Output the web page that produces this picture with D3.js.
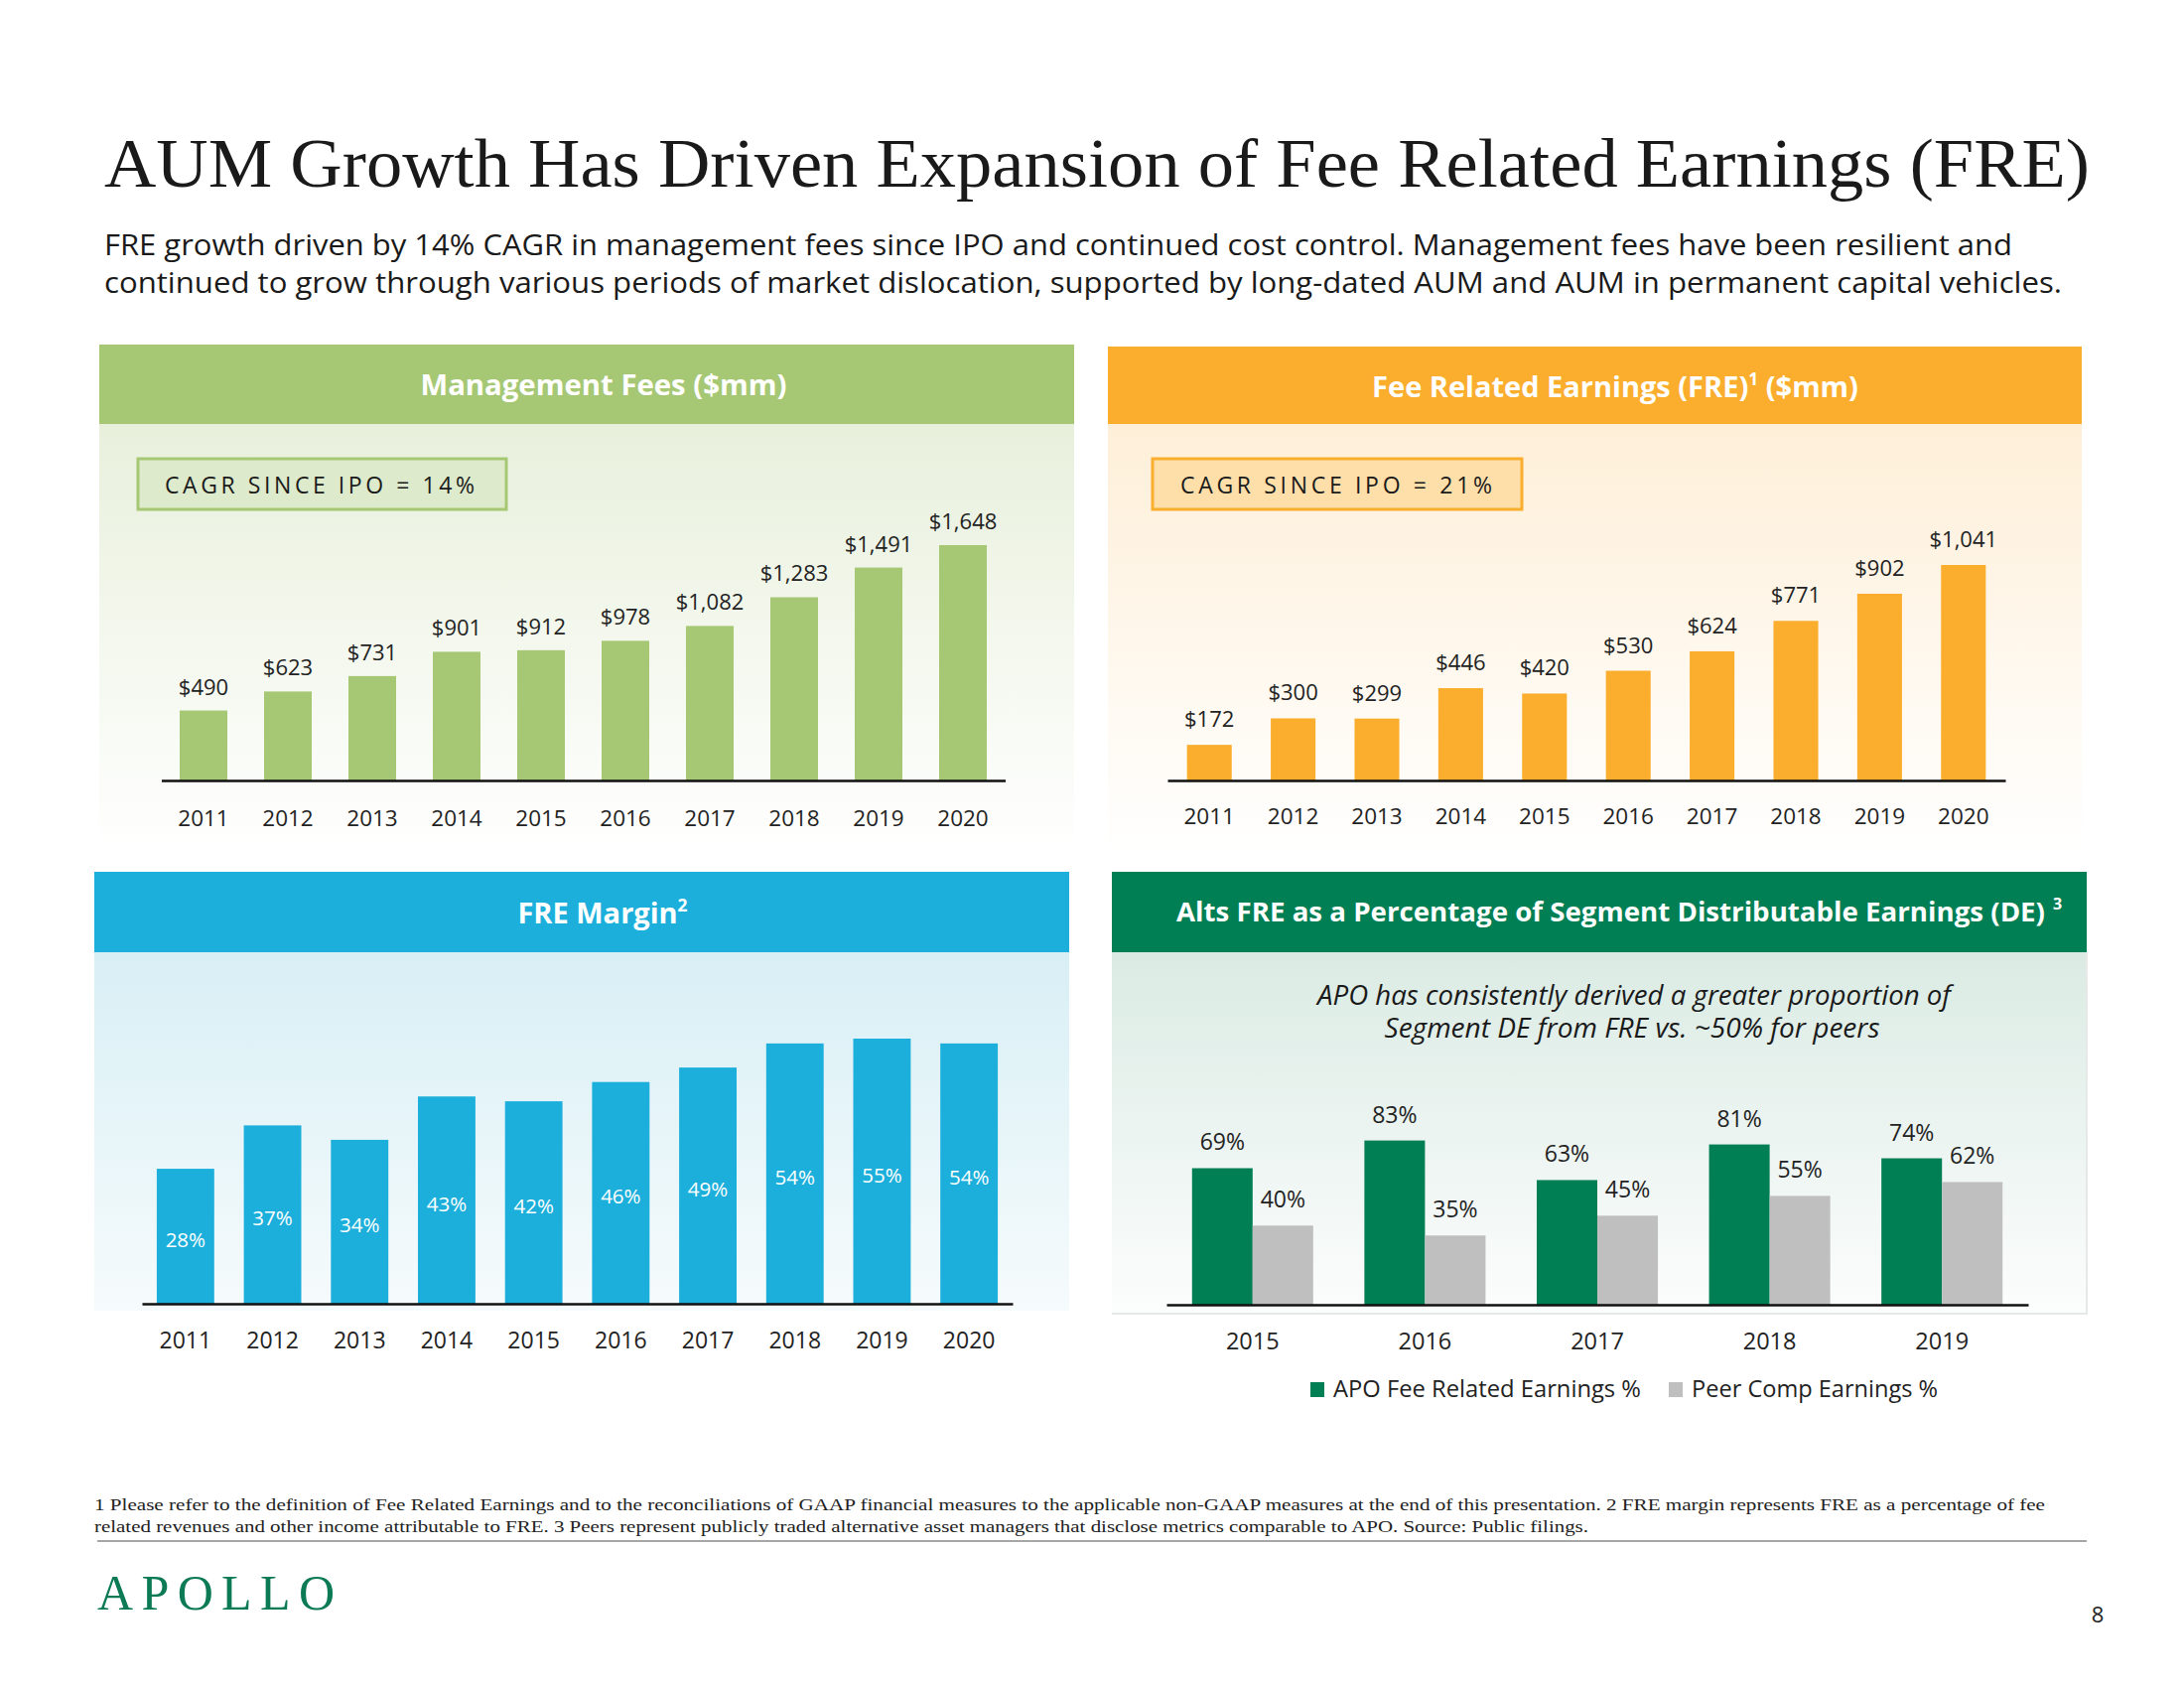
<!DOCTYPE html>
<html><head><meta charset="utf-8">
<script src="https://cdn.jsdelivr.net/npm/d3@7"></script>
<style>body{margin:0;background:#fff} svg{display:block}</style>
</head><body><svg id="c" width="2200" height="1700"></svg>
<script>
// ---- data ----
const years = ["2011","2012","2013","2014","2015","2016","2017","2018","2019","2020"];
const mgmtFees = [490,623,731,901,912,978,1082,1283,1491,1648];
const freValues = [172,300,299,446,420,530,624,771,902,1041];
const freMargin = [28,37,34,43,42,46,49,54,55,54];
const altsYears = ["2015","2016","2017","2018","2019"];
const apoFre = [69,83,63,81,74];
const peerFre = [40,35,45,55,62];
const seriesNames = ["APO Fee Related Earnings %","Peer Comp Earnings %"];

const SANS = "'Open Sans','Noto Sans',sans-serif";
const SERIF = "'Liberation Serif','DejaVu Serif',serif";
const TXT = "#222";

const svg = d3.select("#c");
svg.append("rect").attr("width",2200).attr("height",1700).attr("fill","#fff");
const defs = svg.append("defs");
function grad(id, c0, c1){
  const g = defs.append("linearGradient").attr("id",id).attr("x1",0).attr("y1",0).attr("x2",0).attr("y2",1);
  g.append("stop").attr("offset",0).attr("stop-color",c0);
  g.append("stop").attr("offset",1).attr("stop-color",c1);
}
grad("gGreen","#E8F0DC","#FFFFFF");
grad("gOrange","#FEEFD8","#FFFFFF");
grad("gBlue","#D8EFF5","#F6FBFC");
grad("gDark","#DBEBE4","#FCFDFD");

// ---- title ----
svg.append("text").attr("x",105).attr("y",188)
  .attr("font-family",SERIF).attr("font-size",70).attr("fill","#1a1a1a")
  .attr("textLength",2000).attr("lengthAdjust","spacingAndGlyphs")
  .text("AUM Growth Has Driven Expansion of  Fee Related Earnings (FRE)");
svg.append("text").attr("x",105).attr("y",257)
  .attr("font-family",SANS).attr("font-size",30).attr("fill","#1a1a1a")
  .attr("textLength",1922).attr("lengthAdjust","spacingAndGlyphs")
  .text("FRE growth driven by 14% CAGR in management fees since IPO and continued cost control. Management fees have been resilient and");
svg.append("text").attr("x",105).attr("y",295)
  .attr("font-family",SANS).attr("font-size",30).attr("fill","#1a1a1a")
  .attr("textLength",1972).attr("lengthAdjust","spacingAndGlyphs")
  .text("continued to grow through various periods of market dislocation, supported by long-dated AUM and AUM in permanent capital vehicles.");

// ---- panel frames ----
function panel(x, y, w, hh, bh, hc, gid){
  svg.append("rect").attr("x",x).attr("y",y+hh).attr("width",w).attr("height",bh).attr("fill",`url(#${gid})`);
  svg.append("rect").attr("x",x).attr("y",y).attr("width",w).attr("height",hh).attr("fill",hc);
}
panel(100,347,982,80,433,"#A6C874","gGreen");
panel(1116,349,981,78,433,"#FBAE2D","gOrange");
panel(95,878,982,81,361,"#1DAFDB","gBlue");
panel(1120,878,982,81,364,"#007E54","gDark");
svg.append("path").attr("d","M1120,1323 H2102 V959").attr("fill","none").attr("stroke","#E6E9E8").attr("stroke-width",2);

// header titles
function header(cx, y, parts, size, len){
  const t = svg.append("text").attr("x",cx).attr("y",y).attr("text-anchor","middle")
    .attr("font-family",SANS).attr("font-weight",700).attr("font-size",size).attr("fill","#fff");
  parts.forEach(p=>{
    const ts = t.append("tspan").text(p.t);
    if(p.sup){ ts.attr("font-size",size*0.6).attr("baseline-shift","super"); }
  });
  if(len) t.attr("textLength",len).attr("lengthAdjust","spacingAndGlyphs");
  return t;
}
header(608,398,[{t:"Management Fees ($mm)"}],29,369);
header(1627,400,[{t:"Fee Related Earnings (FRE)"},{t:"1",sup:true},{t:" ($mm)"}],29);
header(607,930,[{t:"FRE Margin"},{t:"2",sup:true}],29);
// panel 4 header: main text + separate superscript
svg.append("text").attr("x",1185).attr("y",928).attr("font-family",SANS).attr("font-weight",700)
  .attr("font-size",26.5).attr("fill","#fff").attr("textLength",875).attr("lengthAdjust","spacingAndGlyphs")
  .text("Alts FRE as a Percentage of Segment Distributable Earnings (DE)");
svg.append("text").attr("x",2068).attr("y",916).attr("font-family",SANS).attr("font-weight",700)
  .attr("font-size",16).attr("fill","#fff").text("3");

// CAGR boxes
function cagr(x, y, w, h, fill, stroke, tx, tlen, label){
  svg.append("rect").attr("x",x).attr("y",y).attr("width",w).attr("height",h)
    .attr("fill",fill).attr("stroke",stroke).attr("stroke-width",3);
  svg.append("text").attr("x",tx).attr("y",y+35).attr("font-family",SANS).attr("font-size",23)
    .attr("fill","#1a1a1a").attr("textLength",tlen).attr("lengthAdjust","spacing").text(label);
}
cagr(139,462,371,51,"#DDEACB","#A6C874",166,312,"CAGR SINCE IPO = 14%");
cagr(1161,462,372,51,"#FEDFAA","#F9AE2E",1189,314,"CAGR SINCE IPO = 21%");

// ---- generic axis ----
function bottomAxis(x, yBase, labelDy, fs){
  const g = svg.append("g").attr("transform",`translate(0,${yBase})`)
    .call(d3.axisBottom(x).tickSize(0).tickSizeOuter(0));
  g.select(".domain").attr("stroke","#111").attr("stroke-width",2.5);
  g.selectAll(".tick text").attr("y",labelDy).attr("dy",null)
    .attr("font-family",SANS).attr("font-size",fs||22).attr("fill",TXT);
  return g;
}
const dollar = v => "$" + d3.format(",")(v);

// ---- panel 1: Management fees ----
{
  const x = d3.scaleBand().domain(years).range([162.5,1012.5]).paddingInner(0.435).paddingOuter(0.2175);
  const y = d3.scaleLinear().domain([0, d3.max(mgmtFees)]).range([786, 549]);
  const g = svg.append("g");
  g.selectAll("rect").data(mgmtFees).join("rect")
    .attr("x",(d,i)=>x(years[i])).attr("width",x.bandwidth())
    .attr("y",d=>y(d)).attr("height",d=>y(0)-y(d)).attr("fill","#A6C874");
  g.selectAll("text").data(mgmtFees).join("text")
    .attr("x",(d,i)=>x(years[i])+x.bandwidth()/2).attr("y",d=>y(d)-16)
    .attr("text-anchor","middle").attr("font-family",SANS).attr("font-size",22).attr("fill",TXT)
    .text(dollar);
  bottomAxis(x, 786, 46, 22.5);
}

// ---- panel 2: FRE ----
{
  const x = d3.scaleBand().domain(years).range([1176,2020]).paddingInner(0.466).paddingOuter(0.233);
  const y = d3.scaleLinear().domain([0, d3.max(freValues)]).range([786, 569]);
  const g = svg.append("g");
  g.selectAll("rect").data(freValues).join("rect")
    .attr("x",(d,i)=>x(years[i])).attr("width",x.bandwidth())
    .attr("y",d=>y(d)).attr("height",d=>y(0)-y(d)).attr("fill","#FBAE2D");
  g.selectAll("text").data(freValues).join("text")
    .attr("x",(d,i)=>x(years[i])+x.bandwidth()/2).attr("y",d=>y(d)-18)
    .attr("text-anchor","middle").attr("font-family",SANS).attr("font-size",22).attr("fill",TXT)
    .text(dollar);
  bottomAxis(x, 786, 44, 22.5);
}

// ---- panel 3: FRE margin ----
{
  const x = d3.scaleBand().domain(years).range([143,1020]).paddingInner(0.34).paddingOuter(0.17);
  const y = d3.scaleLinear().domain([0, d3.max(freMargin)]).range([1313, 1046]);
  const g = svg.append("g");
  g.selectAll("rect").data(freMargin).join("rect")
    .attr("x",(d,i)=>x(years[i])).attr("width",x.bandwidth())
    .attr("y",d=>y(d)).attr("height",d=>y(0)-y(d)).attr("fill","#1DAFDB");
  g.selectAll("text").data(freMargin).join("text")
    .attr("x",(d,i)=>x(years[i])+x.bandwidth()/2).attr("y",d=>(y(d)+y(0))/2+11)
    .attr("text-anchor","middle").attr("font-family",SANS).attr("font-size",20.5).attr("fill","#fff")
    .text(d=>d+"%");
  bottomAxis(x, 1313, 45, 23);
}

// ---- panel 4: Alts FRE % of DE ----
{
  svg.append("text").attr("x",1646).attr("y",1012).attr("text-anchor","middle")
    .attr("font-family",SANS).attr("font-style","italic").attr("font-size",27).attr("fill","#1a1a1a")
    .attr("textLength",638).attr("lengthAdjust","spacingAndGlyphs")
    .text("APO has consistently derived a greater proportion of");
  svg.append("text").attr("x",1644).attr("y",1045).attr("text-anchor","middle")
    .attr("font-family",SANS).attr("font-style","italic").attr("font-size",27).attr("fill","#1a1a1a")
    .attr("textLength",499).attr("lengthAdjust","spacingAndGlyphs")
    .text("Segment DE from FRE vs. ~50% for peers");

  const x0 = d3.scaleBand().domain(altsYears).range([1175,2043]).paddingInner(0.297).paddingOuter(0.1485);
  const x1 = d3.scaleBand().domain([0,1]).range([0, x0.bandwidth()]);
  const y = d3.scaleLinear().domain([0, d3.max(apoFre)]).range([1314, 1148.6]);
  const colors = ["#007E54","#BFBFBF"];
  const rows = altsYears.map((yr,i)=>[{yr,s:0,v:apoFre[i]},{yr,s:1,v:peerFre[i]}]).flat();
  const g = svg.append("g");
  g.selectAll("rect").data(rows).join("rect")
    .attr("x",d=>x0(d.yr)+x1(d.s)).attr("width",x1.bandwidth())
    .attr("y",d=>y(d.v)).attr("height",d=>y(0)-y(d.v)).attr("fill",d=>colors[d.s]);
  g.selectAll("text").data(rows).join("text")
    .attr("x",d=>x0(d.yr)+x1(d.s)+x1.bandwidth()/2).attr("y",d=>y(d.v)-18)
    .attr("text-anchor","middle").attr("font-family",SANS).attr("font-size",23).attr("fill",TXT)
    .text(d=>d.v+"%");
  bottomAxis(x0, 1314, 45, 23.5);

  // legend
  const lg = svg.append("g");
  const lx = [1320, 1681];
  const llen = [310, 248];
  seriesNames.forEach((n,i)=>{
    lg.append("rect").attr("x",lx[i]).attr("y",1392).attr("width",14).attr("height",15).attr("fill",colors[i]);
    lg.append("text").attr("x",lx[i]+23).attr("y",1407).attr("font-family",SANS).attr("font-size",23)
      .attr("fill",TXT).attr("textLength",llen[i]).attr("lengthAdjust","spacingAndGlyphs").text(n);
  });
}

// ---- footer ----
svg.append("text").attr("x",95).attr("y",1521).attr("font-family",SERIF).attr("font-size",17).attr("fill","#222")
  .attr("textLength",1965).attr("lengthAdjust","spacingAndGlyphs")
  .text("1 Please refer to the definition of Fee Related Earnings and to the reconciliations of GAAP financial measures to the applicable non-GAAP measures at the end of this presentation. 2 FRE margin represents FRE as a percentage of fee");
svg.append("text").attr("x",95).attr("y",1543).attr("font-family",SERIF).attr("font-size",17).attr("fill","#222")
  .attr("textLength",1505).attr("lengthAdjust","spacingAndGlyphs")
  .text("related revenues and other income attributable to FRE. 3 Peers represent publicly traded alternative asset managers that disclose metrics comparable to APO. Source: Public filings.");
svg.append("line").attr("x1",98).attr("x2",2102).attr("y1",1552).attr("y2",1552).attr("stroke","#A6A6A6").attr("stroke-width",2);
svg.append("text").attr("x",98).attr("y",1621).attr("font-family",SERIF).attr("font-size",50).attr("fill","#0B7A55")
  .attr("textLength",239).attr("lengthAdjust","spacing").text("APOLLO");
svg.append("text").attr("x",2113).attr("y",1634).attr("text-anchor","middle").attr("font-family",SANS).attr("font-size",22).attr("fill","#222").text("8");
</script></body></html>
